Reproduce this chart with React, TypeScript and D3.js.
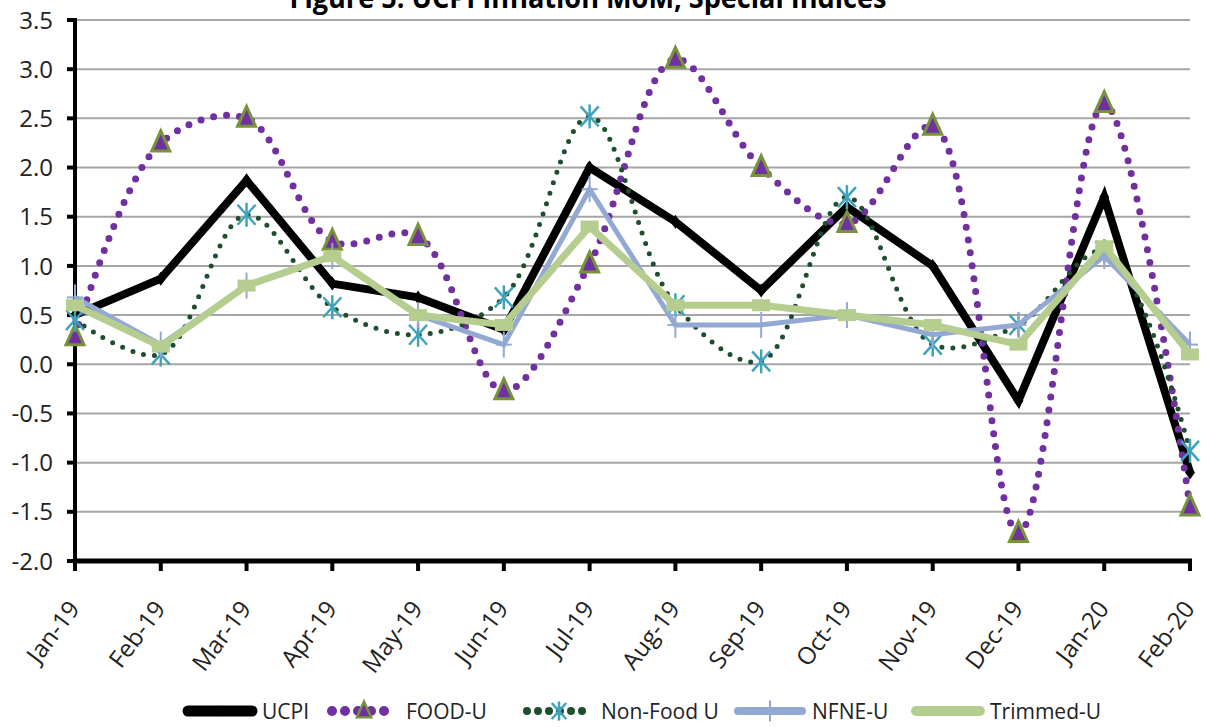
import { useMemo } from 'react';
import * as d3 from 'd3';

const months = ['Jan-19', 'Feb-19', 'Mar-19', 'Apr-19', 'May-19', 'Jun-19', 'Jul-19', 'Aug-19', 'Sep-19', 'Oct-19', 'Nov-19', 'Dec-19', 'Jan-20', 'Feb-20'];

const ucpi = [0.5, 0.87, 1.87, 0.82, 0.68, 0.35, 2.0, 1.45, 0.75, 1.6, 1.0, -0.37, 1.7, -1.1];
const foodU = [0.28, 2.25, 2.5, 1.25, 1.3, -0.27, 1.02, 3.1, 2.0, 1.43, 2.42, -1.72, 2.65, -1.45];
const nonFoodU = [0.45, 0.1, 1.52, 0.58, 0.3, 0.68, 2.52, 0.6, 0.03, 1.7, 0.2, 0.4, 1.15, -0.88];
const nfneU = [0.68, 0.2, 0.8, 1.1, 0.5, 0.2, 1.78, 0.4, 0.4, 0.5, 0.3, 0.4, 1.1, 0.2];
const trimmedU = [0.6, 0.18, 0.8, 1.1, 0.5, 0.4, 1.4, 0.6, 0.6, 0.5, 0.4, 0.2, 1.2, 0.1];

const yTickValues = [-2, -1.5, -1, -0.5, 0, 0.5, 1, 1.5, 2, 2.5, 3, 3.5];
const seriesNames = ['UCPI', 'FOOD-U', 'Non-Food U', 'NFNE-U', 'Trimmed-U'];

const FONT = "'Open Sans', 'DejaVu Sans', sans-serif";

type Marker = 'diamond' | 'triangle' | 'star' | 'plus' | 'rect';

interface Series {
  name: string;
  values: number[];
  color: string;
  width: number;
  dash?: string;
  smooth: boolean;
  marker: Marker;
}

const MarkerShape = ({ kind, x, y, k = 1 }: { kind: Marker; x: number; y: number; k?: number }) => {
  switch (kind) {
    case 'diamond':
      return <path d={`M${x},${y - 7 * k} L${x + 5 * k},${y} L${x},${y + 7 * k} L${x - 5 * k},${y} Z`} fill="#000" />;
    case 'triangle':
      return (
        <path
          d={`M${x},${y - 12 * k} L${x + 9 * k},${y + 8 * k} L${x - 9 * k},${y + 8 * k} Z`}
          fill="#7030A0"
          stroke="#77933C"
          strokeWidth={3 * k}
        />
      );
    case 'star':
      return (
        <g stroke="#3FA3BC" strokeWidth={2.5}>
          <line x1={x} y1={y - 12 * k} x2={x} y2={y + 12 * k} />
          <line x1={x - 9 * k} y1={y - 10 * k} x2={x + 9 * k} y2={y + 10 * k} />
          <line x1={x - 9 * k} y1={y + 10 * k} x2={x + 9 * k} y2={y - 10 * k} />
        </g>
      );
    case 'plus':
      return (
        <g stroke="#93A9D3" strokeWidth={2}>
          <line x1={x} y1={y - 13 * k} x2={x} y2={y + 13 * k} />
          <line x1={x - 8 * k} y1={y} x2={x + 8 * k} y2={y} />
        </g>
      );
    case 'rect':
      return <rect x={x - 9 * k} y={y - 6 * k} width={18 * k} height={12 * k} fill="#B5CD8E" />;
  }
};

const App = () => {
  const width = 1205;
  const height = 727;
  const left = 75;
  const right = 1190;
  const top = 20;
  const bottom = 561;

  const x = useMemo(() => d3.scalePoint<string>().domain(months).range([left, right]), []);
  const y = useMemo(() => d3.scaleLinear().domain([-2, 3.5]).range([bottom, top]), []);

  const series: Series[] = [
    { name: seriesNames[0], values: ucpi, color: '#000000', width: 8, smooth: false, marker: 'diamond' },
    { name: seriesNames[1], values: foodU, color: '#7030A0', width: 7, dash: '0 13', smooth: true, marker: 'triangle' },
    { name: seriesNames[2], values: nonFoodU, color: '#1F4E2F', width: 5, dash: '0 11', smooth: true, marker: 'star' },
    { name: seriesNames[3], values: nfneU, color: '#93A9D3', width: 5, smooth: false, marker: 'plus' },
    { name: seriesNames[4], values: trimmedU, color: '#B5CD8E', width: 7, smooth: false, marker: 'rect' },
  ];

  const pathFor = (s: Series) => {
    const gen = d3
      .line<number>()
      .x((_, i) => x(months[i]) as number)
      .y((d) => y(d))
      .curve(s.smooth ? d3.curveCatmullRom.alpha(0.5) : d3.curveLinear);
    return gen(s.values) || undefined;
  };

  // legend layout
  const legendX = [188, 332, 527, 738, 916];
  const legendY = 711;
  const sampleLen = 64;

  return (
    <>
      <style>{`body{margin:0}`}</style>
      <svg width={width} height={height} style={{ display: 'block', background: '#fff' }}>
        {/* title (cut off at top like the source) */}
        <text
          x={588}
          y={8}
          textAnchor="middle"
          fontFamily={FONT}
          fontWeight="bold"
          fontSize={28}
          textLength={597}
          lengthAdjust="spacingAndGlyphs"
        >
          Figure 5: UCPI Inflation MoM, Special Indices
        </text>

        {/* gridlines */}
        {yTickValues.map((v) => (
          <line key={`g${v}`} x1={left} x2={right} y1={y(v)} y2={y(v)} stroke="#A6A6A6" strokeWidth={2} />
        ))}

        {/* y axis */}
        <line x1={left} x2={left} y1={top - 2} y2={bottom + 2} stroke="#000" strokeWidth={4} />
        {yTickValues.map((v) => (
          <g key={`y${v}`} transform={`translate(${left}, ${y(v)})`}>
            <line x1={-8} x2={0} stroke="#000" strokeWidth={4} />
            <text x={-22} dy="0.36em" textAnchor="end" fontFamily={FONT} fontSize={24} fill="#222">
              {v.toFixed(1)}
            </text>
          </g>
        ))}

        {/* x axis */}
        <line x1={left - 2} x2={right + 2} y1={bottom} y2={bottom} stroke="#000" strokeWidth={5} />
        {months.map((m) => (
          <g key={m} transform={`translate(${x(m)}, ${bottom})`}>
            <line y1={0} y2={10} stroke="#000" strokeWidth={4} />
            <text
              transform="translate(-1, 43) rotate(-53)"
              textAnchor="end"
              dy="0.35em"
              fontFamily={FONT}
              fontSize={24}
              fill="#222"
            >
              {m}
            </text>
          </g>
        ))}

        {/* series */}
        {series.map((s) => (
          <g key={s.name}>
            <path
              d={pathFor(s)}
              fill="none"
              stroke={s.color}
              strokeWidth={s.width}
              strokeDasharray={s.dash}
              strokeLinecap={s.dash ? 'round' : 'butt'}
              strokeLinejoin="miter"
            />
            {s.values.map((v, i) => (
              <MarkerShape key={i} kind={s.marker} x={x(months[i]) as number} y={y(v)} />
            ))}
          </g>
        ))}

        {/* legend */}
        {series.map((s, i) => (
          <g key={`l${s.name}`} transform={`translate(${legendX[i]}, ${legendY})`}>
            <line
              x1={0}
              x2={sampleLen}
              stroke={s.color}
              strokeWidth={s.width + 3}
              strokeDasharray={s.dash}
              strokeLinecap="round"
            />
            {s.marker !== 'rect' && <MarkerShape kind={s.marker} x={sampleLen / 2} y={0} k={0.8} />}
            <text x={sampleLen + 10} dy="0.36em" fontFamily={FONT} fontSize={21} fill="#222">
              {s.name}
            </text>
          </g>
        ))}
      </svg>
    </>
  );
};

export default App;
